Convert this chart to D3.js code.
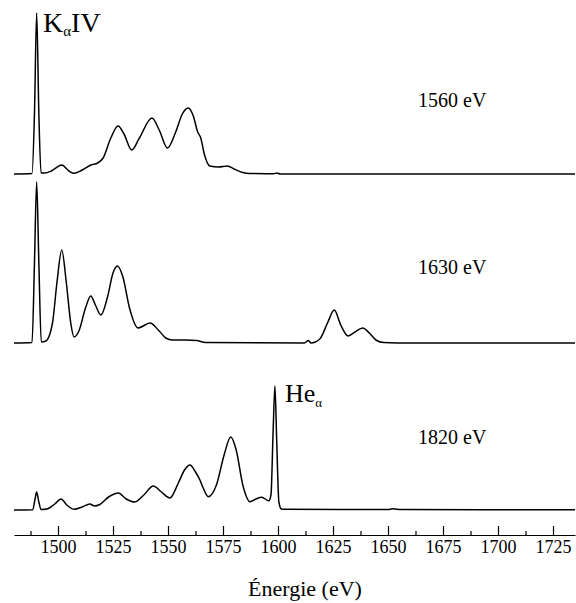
<!DOCTYPE html>
<html>
<head>
<meta charset="utf-8">
<script src="https://cdn.jsdelivr.net/npm/d3@7"></script>
<style>
  html, body { margin: 0; padding: 0; background: #fff; }
  svg { display: block; }
</style>
</head>
<body>
<svg id="chart" width="576" height="603"></svg>
<script>
// ---- Data (energy in eV, intensity in arbitrary units) ----
const spectrum1560 = [
  [1480,0],[1488.2,0.5],[1489.3,60],[1490.3,161],[1491.3,60],[1492.3,1],[1494,1],[1497,3],
  [1501.7,9],[1505,3],[1507.3,0.7],[1511,4],[1515,9],[1518,11],[1520.5,16],[1524,36],
  [1527.3,48],[1530,40],[1533.5,24],[1537,36],[1542.7,56],[1546,44],[1549.8,26],[1553.5,42],
  [1556.5,60],[1559.2,66],[1561.5,58],[1563.5,42],[1564.9,36],[1566.5,20],[1569,8],
  [1573,7],[1577,8],[1580,5],[1584,1.5],[1587,0.5],[1598,0.3],[1599.5,0.9],[1601,0],[1735,0]
];
const spectrum1630 = [
  [1480,0],[1488.2,0.5],[1489.3,80],[1490.3,161],[1491.3,80],[1492.4,1],[1494.5,2],
  [1497.5,20],[1499.5,60],[1501.7,93],[1503.8,60],[1505.8,20],[1507.3,6],[1509.5,12],
  [1512.5,35],[1514.9,47],[1517,38],[1519.5,28],[1522.5,46],[1525,70],[1527,77],
  [1529.5,66],[1532.5,35],[1536.4,15],[1541.8,20],[1546,12],[1549,5],[1552,3],[1558,3],
  [1563,2.5],[1567,0.5],[1612,0],[1613.8,2.5],[1615,0],[1619,4],[1622.5,20],[1625.6,33],
  [1628.5,18],[1631.9,7],[1635,11],[1638.5,15],[1641.5,10],[1644.5,3],[1648,0.5],[1660,0],[1735,0]
];
const spectrum1820 = [
  [1480,0],[1488.5,0.3],[1489.5,10],[1490.3,18],[1491.2,9],[1492.3,0.5],[1495,1],
  [1498.5,6],[1501.4,11],[1504,5],[1507.3,0.7],[1511,3],[1514.5,6],[1516.6,4],[1519,5.5],
  [1523,13],[1527.4,17],[1531,11],[1534.9,8],[1539,15],[1543.3,24],[1547,18],[1550.9,12],
  [1554.5,26],[1557.5,40],[1560,45],[1562.5,38],[1564.5,30],[1566,22],[1568.3,13.3],
  [1572,25],[1575.5,55],[1578.5,73],[1581,60],[1584,25],[1587.3,8.3],[1590,11],
  [1592.6,12.7],[1595.8,9.3],[1596.8,15],[1597.8,80],[1598.6,124],[1599.4,70],
  [1600.4,8],[1601.5,1],[1603,0.7],[1650,0.5],[1652,1.2],[1656,0.5],[1735,0.3]
];
const panelLabels = ["1560 eV", "1630 eV", "1820 eV"];
const majorTicks = [1500,1525,1550,1575,1600,1625,1650,1675,1700,1725];
const minorTicks = [1487.5,1512.5,1537.5,1562.5,1587.5,1612.5,1637.5,1662.5,1687.5,1712.5];
const xLabel = "Énergie (eV)";

const FONT = "'Liberation Serif', 'Times New Roman', Times, serif";

// ---- Layout ----
const svg = d3.select("#chart");
const x = d3.scaleLinear().domain([1480, 1735]).range([14, 575]);
const baselines = [174, 343, 510];
const labelY = [107, 274, 444];
const series = [spectrum1560, spectrum1630, spectrum1820];

series.forEach((data, i) => {
  const y = d3.scaleLinear().domain([0, 170]).range([baselines[i], baselines[i] - 170]);
  const line = d3.line()
    .x(d => x(d[0]))
    .y(d => y(d[1]))
    .curve(d3.curveMonotoneX);
  svg.append("path")
    .datum(data)
    .attr("d", line)
    .attr("fill", "none")
    .attr("stroke", "#000")
    .attr("stroke-width", 1.5)
    .attr("stroke-linejoin", "round");
  svg.append("text")
    .attr("x", 418).attr("y", labelY[i])
    .style("font-family", FONT)
    .style("font-size", "20px")
    .text(panelLabels[i]);
});

// Peak labels
const kLabel = svg.append("text").attr("x", 43).attr("y", 32)
  .style("font-family", FONT).style("font-size", "28px");
kLabel.append("tspan").text("K");
kLabel.append("tspan").style("font-size", "15px").attr("dy", 4).text("α");
kLabel.append("tspan").attr("dy", -4).text("IV");

const heLabel = svg.append("text").attr("x", 285).attr("y", 402)
  .style("font-family", FONT).style("font-size", "26px");
heLabel.append("tspan").text("He");
heLabel.append("tspan").style("font-size", "13px").attr("dy", 5).text("α");

// ---- Axis ----
const axisY = 535;
const major = d3.axisBottom(x).tickValues(majorTicks).tickFormat(d3.format("d"))
  .tickSizeInner(-9).tickSizeOuter(0).tickPadding(5);
const gA = svg.append("g").attr("transform", `translate(0,${axisY})`).call(major);
gA.attr("font-family", null).attr("font-size", null);
gA.selectAll("text")
  .style("font-family", FONT).style("font-size", "18px").attr("fill", "#000");
gA.select(".domain").attr("stroke", "#000").attr("stroke-width", 1.2);
gA.selectAll(".tick line").attr("stroke", "#000").attr("stroke-width", 1.2);

const minor = d3.axisBottom(x).tickValues(minorTicks).tickFormat("")
  .tickSizeInner(-4).tickSizeOuter(0);
const gM = svg.append("g").attr("transform", `translate(0,${axisY})`).call(minor);
gM.select(".domain").remove();
gM.selectAll(".tick line").attr("stroke", "#000").attr("stroke-width", 1.2);

svg.append("text")
  .attr("x", 305).attr("y", 596)
  .attr("text-anchor", "middle")
  .style("font-family", FONT)
  .style("font-size", "22px")
  .text(xLabel);
</script>
</body>
</html>
